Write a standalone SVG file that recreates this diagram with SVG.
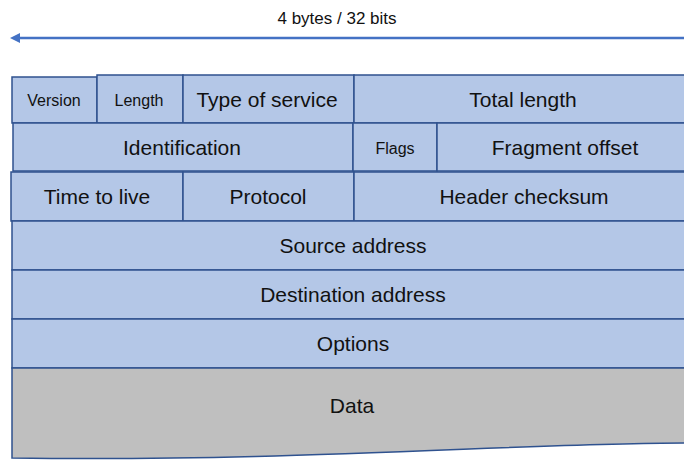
<svg xmlns="http://www.w3.org/2000/svg" width="684" height="462" viewBox="0 0 684 462">
  <defs>
    <marker id="arrowhead" viewBox="0 0 10 10" refX="1" refY="5" markerWidth="4" markerHeight="4" orient="auto-start-reverse">
      <path d="M0,0 L10,5 L0,10 z" fill="#4472C4"/>
    </marker>
    <style>
      .cell { fill: #B4C7E7; stroke: #2F528F; stroke-width: 1.5; }
      .data { fill: #BFBFBF; stroke: #2F528F; stroke-width: 1.5; }
      .lbl { font-family: "Liberation Sans", Arial, sans-serif; font-size: 21px; fill: #111111; text-anchor: middle; }
      .sm { font-size: 16px; }
      .title { font-family: "Liberation Sans", Arial, sans-serif; font-size: 17px; fill: #111111; text-anchor: middle; }
    </style>
  </defs>

  <rect width="684" height="462" fill="#ffffff"/>

  <!-- width indicator -->
  <g id="connectors">
    <line x1="19" y1="38" x2="700" y2="38" stroke="#4472C4" stroke-width="2.5" marker-start="url(#arrowhead)"/>
  </g>
  <text class="title" x="337" y="24">4 bytes / 32 bits</text>

  <!-- row 1 -->
  <g id="version"><rect class="cell" x="12" y="77" width="85" height="46"/><text class="lbl sm" x="54" y="106">Version</text></g>
  <g id="length"><rect class="cell" x="97" y="75" width="86" height="48"/><text class="lbl sm" x="139" y="106">Length</text></g>
  <g id="type-of-service"><rect class="cell" x="183" y="75" width="171" height="48"/><text class="lbl" x="267" y="107">Type of service</text></g>
  <g id="total-length"><rect class="cell" x="354" y="75" width="346" height="48"/><text class="lbl" x="523" y="107">Total length</text></g>

  <!-- row 2 -->
  <g id="identification"><rect class="cell" x="13" y="123" width="340" height="48"/><text class="lbl" x="182" y="155">Identification</text></g>
  <g id="flags"><rect class="cell" x="353" y="123" width="84" height="48"/><text class="lbl sm" x="395" y="154">Flags</text></g>
  <g id="fragment-offset"><rect class="cell" x="437" y="123" width="263" height="48"/><text class="lbl" x="565" y="155">Fragment offset</text></g>

  <!-- row 3 -->
  <g id="time-to-live"><rect class="cell" x="11" y="172" width="172" height="49"/><text class="lbl" x="97" y="204">Time to live</text></g>
  <g id="protocol"><rect class="cell" x="183" y="172" width="171" height="49"/><text class="lbl" x="268" y="204">Protocol</text></g>
  <g id="header-checksum"><rect class="cell" x="354" y="172" width="346" height="49"/><text class="lbl" x="524" y="204">Header checksum</text></g>

  <!-- full-width rows -->
  <g id="source-address"><rect class="cell" x="12" y="221" width="688" height="49"/><text class="lbl" x="353" y="253">Source address</text></g>
  <g id="destination-address"><rect class="cell" x="12" y="270" width="688" height="49"/><text class="lbl" x="353" y="302">Destination address</text></g>
  <g id="options"><rect class="cell" x="12" y="319" width="688" height="49"/><text class="lbl" x="353" y="351">Options</text></g>

  <!-- payload with wavy lower edge -->
  <g id="data">
    <path class="data" d="M12,368 H700 V443 L684,443 C520,443 300,462 12,458 Z"/>
    <text class="lbl" x="352" y="413">Data</text>
  </g>
</svg>
